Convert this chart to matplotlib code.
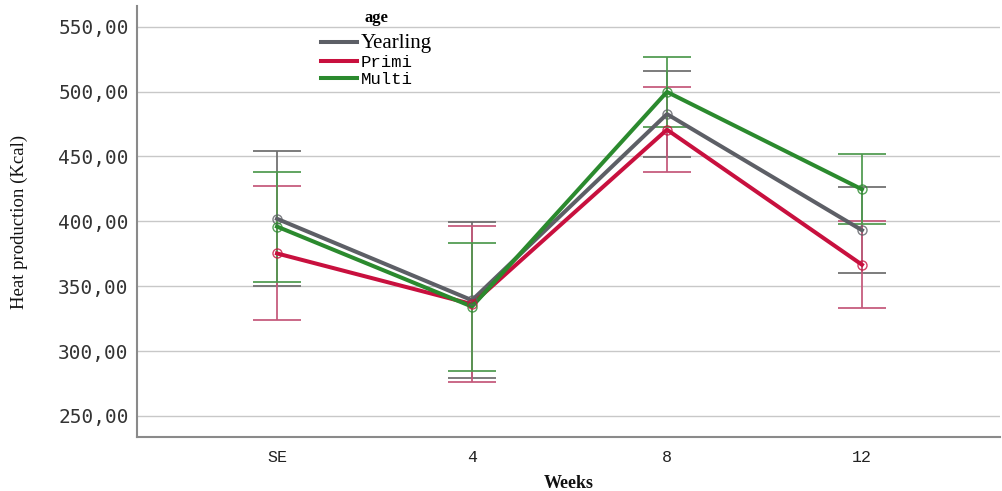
import matplotlib
matplotlib.use("Agg")
import matplotlib.pyplot as plt
from matplotlib.lines import Line2D
import numpy as np

# Data: mean heat production with confidence-interval half widths
weeks = ["SE", "4", "8", "12"]
groups = ["Yearling", "Primi", "Multi"]
yearling_mean = [402.0, 339.2, 482.7, 393.2]
yearling_err = [52.0, 60.3, 33.0, 33.3]
primi_mean = [375.3, 336.2, 470.7, 366.6]
primi_err = [51.7, 60.2, 32.9, 33.7]
multi_mean = [396.0, 334.3, 499.8, 424.7]
multi_err = [42.4, 49.3, 27.0, 27.0]
y_ticks = [250, 300, 350, 400, 450, 500, 550]

line_colors = ["#5d5f66", "#c8103e", "#2b8a2e"]
err_colors = ["#6e6e6e", "#c4587a", "#4f9a4f"]

fig = plt.figure(figsize=(10.02, 4.91), dpi=100)
ax = fig.add_axes([137 / 1002, 1 - 437 / 491, 863 / 1002, 431 / 491])

x = np.arange(len(weeks))
series = [(yearling_mean, yearling_err), (primi_mean, primi_err), (multi_mean, multi_err)]

for (m, e), lc, ec in zip(series, line_colors, err_colors):
    ax.errorbar(x, m, yerr=e, fmt="none", ecolor=ec, elinewidth=1.4,
                capsize=17, capthick=1.4, alpha=0.9, zorder=2)
for (m, e), lc, name in zip(series, line_colors, groups):
    ax.plot(x, m, color=lc, lw=2.9, zorder=3, label=name)
    ax.plot(x, m, linestyle="none", marker="o", markersize=6.5,
            markerfacecolor="none", markeredgecolor=lc, markeredgewidth=1.0,
            alpha=0.8, zorder=4)

ax.set_xlim(-0.718, 3.708)
ax.set_ylim(233.8, 566.0)
ax.set_xticks(x)
ax.set_xticklabels(weeks, family="Liberation Mono", fontsize=12, color="#222222")
ax.set_yticks(y_ticks)
ax.set_yticklabels([f"{v:.2f}".replace(".", ",") for v in y_ticks],
                   family="DejaVu Sans Mono", fontsize=14, color="#333333")
ax.tick_params(axis="both", length=0)
ax.tick_params(axis="y", pad=6)
ax.tick_params(axis="x", pad=9)

ax.yaxis.grid(True, color="#c8c8c8", lw=1.0)
ax.set_axisbelow(True)
for s in ["top", "right"]:
    ax.spines[s].set_visible(False)
for s in ["left", "bottom"]:
    ax.spines[s].set_color("#8a8a8a")
    ax.spines[s].set_linewidth(1.5)

ax.set_ylabel("Heat production (Kcal)", family="Liberation Serif", fontsize=13.5,
              color="#111111")
ax.yaxis.set_label_coords(-0.126, 0.5)
ax.set_xlabel("Weeks", family="Liberation Serif", fontsize=13, fontweight="bold",
              color="#111111")
ax.xaxis.set_label_coords(0.5, -0.088)

handles = [Line2D([0], [0], color=c, lw=2.9) for c in line_colors]
leg = ax.legend(handles, groups, title="age", loc="upper left",
                bbox_to_anchor=(314 / 1002, 1 - 3 / 491), bbox_transform=fig.transFigure,
                frameon=False, handlelength=2.1, handletextpad=0.2, labelspacing=0.1,
                borderaxespad=0, prop={"family": "Liberation Mono", "size": 12.5})
leg.get_title().set_fontfamily("Liberation Serif")
leg.get_title().set_fontweight("bold")
leg.get_title().set_fontsize(12)
leg.get_texts()[0].set_fontfamily("Liberation Serif")
leg.get_texts()[0].set_fontsize(15)
leg._legend_box.sep = 6

fig.savefig("out.png", dpi=100)
